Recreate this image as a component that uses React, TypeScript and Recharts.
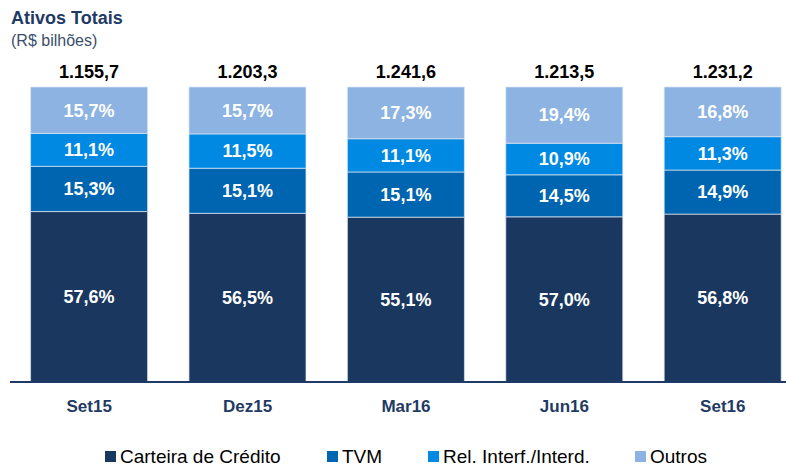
import { BarChart, Bar, XAxis, YAxis, LabelList } from "recharts";

const periods = ["Set15", "Dez15", "Mar16", "Jun16", "Set16"];
const totals = ["1.155,7", "1.203,3", "1.241,6", "1.213,5", "1.231,2"];
const carteira = [57.6, 56.5, 55.1, 57.0, 56.8];
const tvm = [15.3, 15.1, 15.1, 14.5, 14.9];
const relInterf = [11.1, 11.5, 11.1, 10.9, 11.3];
const outros = [15.7, 15.7, 17.3, 19.4, 16.8];

const series = [
  { key: "carteira", name: "Carteira de Crédito", color: "#1A3760" },
  { key: "tvm", name: "TVM", color: "#0065B0" },
  { key: "rel", name: "Rel. Interf./Interd.", color: "#0089E2" },
  { key: "outros", name: "Outros", color: "#8DB3E2" },
];

const data = periods.map((p, i) => ({
  period: p,
  total: totals[i],
  carteira: carteira[i],
  tvm: tvm[i],
  rel: relInterf[i],
  outros: outros[i],
}));

const FONT = '"Liberation Sans", Arial, sans-serif';
const NAVY = "#1F3A64";

const pct = (v: any) => Number(v).toFixed(1).replace(".", ",") + "%";

const TotalLabel = (props: any) => {
  const { x, y, width, index } = props;
  return (
    <text
      x={x + width / 2}
      y={y - 9}
      textAnchor="middle"
      fontSize={18}
      fontWeight="bold"
      fill="#000"
      fontFamily={FONT}
    >
      {totals[index]}
    </text>
  );
};

const legendWidths = [222, 101, 207, 120];

const ChartLegend = () => (
  <div
    style={{
      position: "absolute",
      left: 105,
      top: 447,
      height: 19,
      display: "flex",
      fontSize: 19,
      color: "#000",
      lineHeight: "19px",
      whiteSpace: "nowrap",
    }}
  >
    {series.map((s, i) => (
      <div
        key={s.key}
        style={{ width: legendWidths[i], flexShrink: 0, display: "flex", alignItems: "center" }}
      >
        <span
          style={{ width: 11, height: 11, background: s.color, display: "inline-block", marginRight: 4 }}
        />
        <span>{s.name}</span>
      </div>
    ))}
  </div>
);

export default function App() {
  return (
    <div
      style={{
        position: "fixed",
        left: 0,
        top: 0,
        width: 786,
        height: 466,
        overflow: "hidden",
        background: "#fff",
        fontFamily: FONT,
      }}
    >
      <div style={{ position: "absolute", left: 11, top: 6, zIndex: 2 }}>
        <div style={{ fontSize: 18, fontWeight: "bold", color: NAVY, lineHeight: "24px" }}>
          Ativos Totais
        </div>
        <div style={{ fontSize: 16, color: "#3B4E6E", lineHeight: "22px" }}>(R$ bilhões)</div>
      </div>
      <BarChart
        width={802}
        height={466}
        data={data}
        stackOffset="expand"
        barCategoryGap="13%"
        margin={{ top: 87, right: 0, bottom: 54, left: 10 }}
      >
        <XAxis
          dataKey="period"
          tickLine={false}
          axisLine={{ stroke: NAVY, strokeWidth: 2 }}
          tickMargin={12}
          tick={{ fill: NAVY, fontSize: 17, fontWeight: "bold", fontFamily: FONT }}
        />
        <YAxis hide domain={[0, 1]} />
        {series.map((s) => (
          <Bar
            key={s.key}
            dataKey={s.key}
            name={s.name}
            stackId="a"
            fill={s.color}
            stroke="#DCE6F2"
            strokeWidth={0.7}
            isAnimationActive={false}
          >
            <LabelList
              dataKey={s.key}
              position="center"
              formatter={pct}
              fill="#fff"
              fontSize={18}
              fontWeight="bold"
              fontFamily={FONT}
            />
            {s.key === "outros" && <LabelList dataKey="total" content={TotalLabel} />}
          </Bar>
        ))}
      </BarChart>
      <ChartLegend />
    </div>
  );
}
